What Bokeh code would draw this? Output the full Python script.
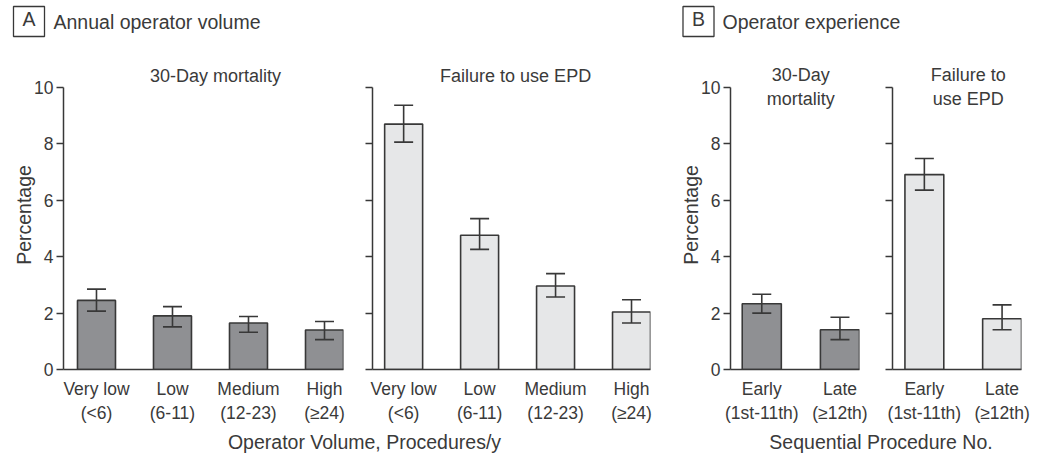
from bokeh.plotting import figure
from bokeh.models import Range1d, FixedTicker, Label, Whisker, TeeHead, ColumnDataSource
from bokeh.layouts import column, row
from bokeh.embed import file_html
from bokeh.resources import INLINE

# ---------------- data ----------------
volume_labels = ["Very low\n(<6)", "Low\n(6-11)", "Medium\n(12-23)", "High\n(\u226524)"]
vol_mort = [2.45, 1.90, 1.65, 1.40]
vol_mort_lo = [2.07, 1.51, 1.32, 1.06]
vol_mort_hi = [2.85, 2.23, 1.88, 1.70]
vol_epd = [8.70, 4.76, 2.96, 2.04]
vol_epd_lo = [8.06, 4.26, 2.57, 1.65]
vol_epd_hi = [9.37, 5.35, 3.40, 2.47]

exp_labels = ["Early\n(1st-11th)", "Late\n(\u226512th)"]
exp_mort = [2.33, 1.41]
exp_mort_lo = [2.00, 1.06]
exp_mort_hi = [2.67, 1.85]
exp_epd = [6.91, 1.80]
exp_epd_lo = [6.36, 1.41]
exp_epd_hi = [7.48, 2.29]

y_ticks = [0, 2, 4, 6, 8, 10]

# ---------------- style ----------------
FONT = "Liberation Sans"
TXT = "#3a3a3a"
LINE = "#383838"
DARK = "#8f9093"
LIGHT = "#e6e7e8"
TICK_FS = "17.5px"
TITLE_FS = "18px"
AXIS_FS = "19.5px"
Y_TOP = 10.954  # headroom above the 10 tick for the panel titles


def make_panel(width, bl, br, xr, labels, vals, lo, hi, fill, show_y, title, tx, ty):
    p = figure(width=width, height=365, x_range=Range1d(*xr), y_range=Range1d(0, Y_TOP),
               output_backend="svg", toolbar_location=None, title=None,
               min_border_left=bl, min_border_right=br, min_border_top=0, min_border_bottom=55)
    p.outline_line_color = None
    p.grid.visible = False
    xs = list(range(len(labels)))
    src = ColumnDataSource(dict(x=xs, top=vals, lo=lo, hi=hi))
    p.vbar(x="x", top="top", bottom=0, width=0.5, source=src,
           fill_color=fill, line_color=LINE, line_width=1.6)
    w = Whisker(source=src, base="x", upper="hi", lower="lo", line_color=LINE, line_width=1.6,
                level="overlay",
                upper_head=TeeHead(size=19, line_color=LINE, line_width=1.6),
                lower_head=TeeHead(size=19, line_color=LINE, line_width=1.6))
    p.add_layout(w)

    ya = p.yaxis[0]
    ya.bounds = (0, 10)
    ya.ticker = FixedTicker(ticks=y_ticks)
    ya.major_tick_out = 7
    ya.major_tick_in = 0
    ya.minor_tick_line_color = None
    ya.axis_line_color = LINE
    ya.axis_line_width = 1.5
    ya.major_tick_line_color = LINE
    ya.major_tick_line_width = 1.5
    ya.major_label_standoff = 3
    ya.major_label_text_font = FONT
    ya.major_label_text_font_size = TICK_FS
    ya.major_label_text_color = TXT
    if show_y:
        ya.axis_label = "Percentage"
        ya.axis_label_text_font = FONT
        ya.axis_label_text_font_size = AXIS_FS
        ya.axis_label_text_font_style = "normal"
        ya.axis_label_text_color = TXT
        ya.axis_label_standoff = -4
    else:
        ya.major_label_overrides = {t: "" for t in y_ticks}

    xa = p.xaxis[0]
    xa.ticker = FixedTicker(ticks=xs)
    xa.major_label_overrides = {i: lab for i, lab in zip(xs, labels)}
    xa.major_tick_line_color = None
    xa.minor_tick_line_color = None
    xa.axis_line_color = LINE
    xa.axis_line_width = 1.5
    xa.major_label_standoff = 3
    xa.major_label_text_font = FONT
    xa.major_label_text_font_size = TICK_FS
    xa.major_label_text_color = TXT

    p.add_layout(Label(x=tx, y=ty, text=title, text_align="center", text_baseline="middle",
                       text_font=FONT, text_font_size=TITLE_FS, text_color=TXT))
    return p


def strip(h):
    s = figure(width=1037, height=h, x_range=Range1d(0, 1037), y_range=Range1d(h, 0),
               output_backend="svg", toolbar_location=None, min_border=0, title=None,
               x_axis_type=None, y_axis_type=None)
    s.outline_line_color = None
    s.grid.visible = False
    return s


f1 = make_panel(353, 63, 10, (-0.434, 3.25), volume_labels, vol_mort, vol_mort_lo, vol_mort_hi,
                DARK, True, "30-Day mortality", 1.566, 10.42)
f2 = make_panel(317, 19, 20, (-0.41, 3.25), volume_labels, vol_epd, vol_epd_lo, vol_epd_hi,
                LIGHT, False, "Failure to use EPD", 1.474, 10.42)
f3 = make_panel(199, 60, 10, (-0.40, 1.25), exp_labels, exp_mort, exp_mort_lo, exp_mort_hi,
                DARK, True, "30-Day\nmortality", 0.5, 10.03)
f4 = make_panel(168, 23, 16, (-0.41, 1.25), exp_labels, exp_epd, exp_epd_lo, exp_epd_hi,
                LIGHT, False, "Failure to\nuse EPD", 0.564, 10.03)

top = strip(60)
hdr = dict(text_font=FONT, text_font_size=AXIS_FS, text_color=TXT, text_baseline="middle")
# y range of the strip is flipped, so "bottom" padding shows above the letter
box_pad = dict(left=9, right=9, top=1, bottom=7)
top.add_layout(Label(x=28.5, y=21, text="A", text_align="center", border_line_color=LINE,
                     border_line_width=1.3, padding=box_pad, **hdr))
top.add_layout(Label(x=53, y=21, text="Annual operator volume", text_align="left", **hdr))
top.add_layout(Label(x=698, y=21, text="B", text_align="center", border_line_color=LINE,
                     border_line_width=1.3, padding=box_pad, **hdr))
top.add_layout(Label(x=722, y=21, text="Operator experience", text_align="left", **hdr))

bottom = strip(29)
bottom.add_layout(Label(x=364, y=16, text="Operator Volume, Procedures/y", text_align="center", **hdr))
bottom.add_layout(Label(x=880.5, y=16, text="Sequential Procedure No.", text_align="center", **hdr))

layout = column(top, row(f1, f2, f3, f4), bottom)
open("out.html", "w").write(file_html(layout, INLINE))
